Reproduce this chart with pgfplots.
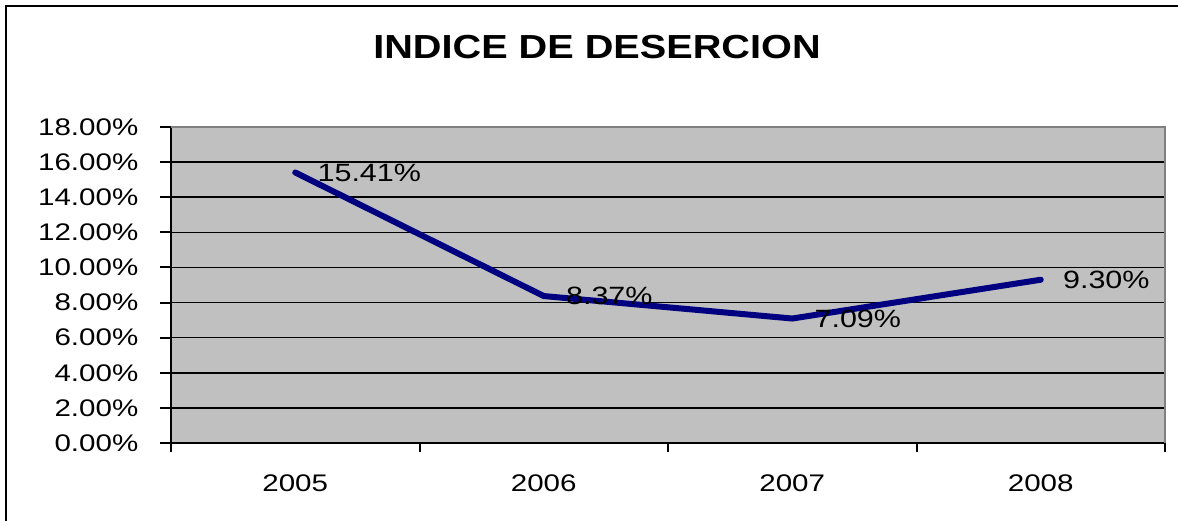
\documentclass[border=0pt]{standalone}
\usepackage{graphicx}
\usepackage{pgfplots}
\pgfplotsset{compat=1.18}
\usepackage{fontspec}
\setmainfont{Liberation Sans}
\definecolor{plotgray}{HTML}{C0C0C0}
\definecolor{navyline}{HTML}{000080}
\definecolor{bordergray}{HTML}{808080}
\newcommand{\sx}[1]{\scalebox{1.23}[1]{#1}}
\begin{document}
\begin{tikzpicture}
\path[use as bounding box] (0pt,0pt) rectangle (883.5pt,390.75pt);
\draw[line width=1.5pt] (4.5pt,-5pt) -- (4.5pt,386.25pt) -- (890pt,386.25pt);
\node[font=\bfseries\fontsize{25}{28}\selectfont, inner sep=0pt] at (447.75pt,355.5pt) {\scalebox{1.19}[1]{INDICE DE DESERCION}};
\begin{axis}[
  at={(128.25pt,58.5pt)}, anchor=south west,
  scale only axis, width=745.5pt, height=237pt,
  xmin=-0.5, xmax=3.5, ymin=0, ymax=0.18,
  xtick={0,1,2,3}, xticklabels={\sx{2005},\sx{2006},\sx{2007},\sx{2008}},
  minor xtick={-0.5,0.5,1.5,2.5,3.5},
  ytick={0,0.02,0.04,0.06,0.08,0.10,0.12,0.14,0.16,0.18},
  yticklabels={\sx{0.00\%},\sx{2.00\%},\sx{4.00\%},\sx{6.00\%},\sx{8.00\%},\sx{10.00\%},\sx{12.00\%},\sx{14.00\%},\sx{16.00\%},\sx{18.00\%}},
  tick align=outside,
  major tick length=8.25pt, minor tick length=6.75pt,
  tick style={black, line width=1.5pt},
  major x tick style={draw=none},
  axis x line*=bottom, axis y line*=left,
  axis line style={black, line width=1.5pt, -},
  axis background/.style={fill=plotgray},
  ymajorgrids, grid style={black, line width=1.1pt},
  ticklabel style={font=\fontsize{18}{20}\selectfont},
  yticklabel style={xshift=-12.75pt},
  xticklabel style={yshift=-12pt},
  clip=false,
]
\addplot[navyline, line width=4.5pt, line join=round, line cap=round, mark=none,
  nodes near coords={\scalebox{1.22}[1]{\pgfplotspointmeta}}, point meta=explicit symbolic,
  nodes near coords style={anchor=west, inner sep=0pt, xshift=14.5pt, text=black, font=\fontsize{18.75}{21}\selectfont}]
coordinates {
  (0,0.1541) [15.41\%]
  (1,0.0837) [8.37\%]
  (2,0.0709) [7.09\%]
  (3,0.0930) [9.30\%]
};
\draw[bordergray, line width=1.5pt] (rel axis cs:0,1) -- (rel axis cs:1,1) -- (rel axis cs:1,0);
\end{axis}
\end{tikzpicture}
\end{document}
